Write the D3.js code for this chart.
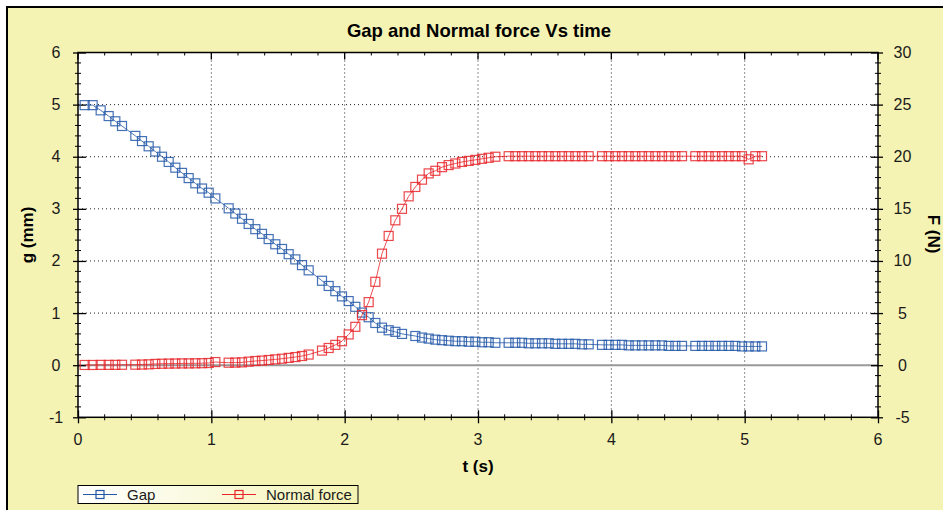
<!DOCTYPE html>
<html>
<head>
<meta charset="utf-8">
<script src="https://cdn.jsdelivr.net/npm/d3@7"></script>
<style>
  body { margin: 0; background: #fff; }
  text { font-family: "Liberation Sans", Arial, sans-serif; }
</style>
</head>
<body>
<script>
// data
var gapTime = [0.05, 0.11, 0.17, 0.23, 0.28, 0.33,
    0.43, 0.48, 0.53, 0.58, 0.63, 0.68, 0.73, 0.78, 0.83, 0.88, 0.93, 0.98, 1.03,
    1.13, 1.18, 1.23, 1.28, 1.33, 1.38, 1.43, 1.48, 1.53, 1.58, 1.63, 1.68, 1.73,
    1.83, 1.88, 1.93, 1.98, 2.03, 2.08, 2.13, 2.18, 2.23, 2.28, 2.33, 2.38, 2.43,
    2.53, 2.58, 2.63, 2.68, 2.73, 2.78, 2.83, 2.88, 2.93, 2.98, 3.03, 3.08, 3.13,
    3.23, 3.28, 3.33, 3.38, 3.43, 3.48, 3.53, 3.58, 3.63, 3.68, 3.73, 3.78, 3.83,
    3.93, 3.98, 4.03, 4.08, 4.13, 4.18, 4.23, 4.28, 4.33, 4.38, 4.43, 4.48, 4.53,
    4.63, 4.68, 4.73, 4.78, 4.83, 4.88, 4.93, 4.98, 5.03, 5.08, 5.13];
var gapValues = [4.99, 4.99, 4.89, 4.78, 4.68, 4.59,
    4.40, 4.30, 4.20, 4.10, 4.00, 3.90, 3.79, 3.69, 3.59, 3.49, 3.39, 3.31, 3.20,
    3.01, 2.91, 2.81, 2.71, 2.61, 2.52, 2.42, 2.32, 2.23, 2.13, 2.03, 1.92, 1.82,
    1.62, 1.52, 1.42, 1.32, 1.23, 1.12, 1.01, 0.92, 0.81, 0.72, 0.67, 0.64, 0.60,
    0.56, 0.53, 0.51, 0.49, 0.48, 0.47, 0.46, 0.46, 0.45, 0.45, 0.44, 0.44, 0.43,
    0.43, 0.43, 0.43, 0.42, 0.42, 0.42, 0.42, 0.41, 0.41, 0.41, 0.41, 0.40, 0.40,
    0.39, 0.39, 0.39, 0.39, 0.38, 0.38, 0.38, 0.38, 0.38, 0.38, 0.37, 0.37, 0.37,
    0.37, 0.37, 0.37, 0.37, 0.37, 0.37, 0.37, 0.36, 0.36, 0.36, 0.36];

var forceTime = [0.05, 0.11, 0.17, 0.23, 0.28, 0.33,
    0.43, 0.48, 0.53, 0.58, 0.63, 0.68, 0.73, 0.78, 0.83, 0.88, 0.93, 0.98, 1.03,
    1.13, 1.18, 1.23, 1.28, 1.33, 1.38, 1.43, 1.48, 1.53, 1.58, 1.63, 1.68, 1.73,
    1.83, 1.88, 1.93, 1.98, 2.03, 2.08, 2.13, 2.18, 2.23, 2.28, 2.33, 2.38, 2.43,
    2.48, 2.53, 2.58, 2.63, 2.68, 2.73, 2.78, 2.83, 2.88, 2.93, 2.98, 3.03, 3.08, 3.13,
    3.23, 3.28, 3.33, 3.38, 3.43, 3.48, 3.53, 3.58, 3.63, 3.68, 3.73, 3.78, 3.83,
    3.93, 3.98, 4.03, 4.08, 4.13, 4.18, 4.23, 4.28, 4.33, 4.38, 4.43, 4.48, 4.53,
    4.63, 4.68, 4.73, 4.78, 4.83, 4.88, 4.93, 4.98, 5.03, 5.08, 5.13];
var forceValues = [0.02, 0.02, 0.03, 0.03, 0.03, 0.04,
    0.05, 0.06, 0.08, 0.12, 0.14, 0.15, 0.16, 0.17, 0.17, 0.18, 0.19, 0.21, 0.30,
    0.24, 0.25, 0.27, 0.34, 0.40, 0.44, 0.50, 0.56, 0.62, 0.70, 0.78, 0.88, 1.02,
    1.40, 1.65, 1.95, 2.30, 2.95, 3.68, 4.80, 6.05, 8.00, 10.70, 12.40, 13.90, 15.00,
    16.20, 17.10, 17.80, 18.40, 18.65, 19.00, 19.20, 19.35, 19.50, 19.60, 19.70, 19.80, 19.90, 20.00,
    20.05, 20.05, 20.05, 20.05, 20.05, 20.05, 20.05, 20.05, 20.05, 20.05, 20.05, 20.05, 20.05,
    20.05, 20.05, 20.05, 20.05, 20.05, 20.05, 20.05, 20.05, 20.05, 20.05, 20.05, 20.05, 20.05,
    20.05, 20.05, 20.05, 20.05, 20.05, 20.05, 20.05, 20.05, 19.75, 20.05, 20.05];

var xTicks = [0, 1, 2, 3, 4, 5, 6];
var gTicks = [-1, 0, 1, 2, 3, 4, 5, 6];
var fTicks = [-5, 0, 5, 10, 15, 20, 25, 30];

var W = 943, H = 510;
var bg = "#f5f3b3";
var blue = "#2358a8", red = "#e8262a";

var svg = d3.select("body").append("svg")
    .attr("width", W).attr("height", H);

// outer panel
svg.append("rect").attr("x", 7).attr("y", 7).attr("width", W).attr("height", H)
    .attr("fill", bg).attr("stroke", "#000").attr("stroke-width", 2);

var pLeft = 78, pRight = 878, pTop = 52.5, pBottom = 417.3;

var x = d3.scaleLinear().domain([0, 6]).range([pLeft, pRight]);
var yG = d3.scaleLinear().domain([-1, 6]).range([pBottom, pTop]);
var yF = d3.scaleLinear().domain([-5, 30]).range([pBottom, pTop]);

svg.append("rect").attr("x", pLeft).attr("y", pTop)
    .attr("width", pRight - pLeft).attr("height", pBottom - pTop).attr("fill", "#fff");

// grid
var grid = svg.append("g").attr("stroke", "#222").attr("stroke-dasharray", "1,3").attr("stroke-width", 1);
grid.selectAll(".vg").data(xTicks.filter(d => d > 0 && d < 6)).join("line")
    .attr("x1", d => x(d)).attr("x2", d => x(d)).attr("y1", pTop).attr("y2", pBottom);
grid.selectAll(".hg").data(gTicks.filter(d => d > 0 && d < 6)).join("line")
    .attr("x1", pLeft).attr("x2", pRight).attr("y1", d => yG(d)).attr("y2", d => yG(d));

// zero line
svg.append("line").attr("x1", pLeft).attr("x2", pRight).attr("y1", yG(0)).attr("y2", yG(0))
    .attr("stroke", "#999").attr("stroke-width", 2);

// axes
function minor(ticks, step, n) {
    var out = [];
    for (var i = 0; i < ticks.length - 1; i++)
        for (var k = 1; k < n; k++) out.push(ticks[i] + step * k / n);
    return out;
}

function drawAxis(gen, tr, major, minorVals, inner, outer, horizontal, sign) {
    var g = svg.append("g").attr("transform", tr);
    g.call(gen.tickValues(major).tickSize(outer).tickPadding(4));
    g.select(".domain").remove();
    g.selectAll(".tick line").attr("stroke", "#000").attr("stroke-width", 1.3)
        .attr(horizontal ? "y1" : "x1", -sign * inner);
    g.selectAll(".tick text").remove();
    g.selectAll(".mn").data(minorVals).join("line")
        .attr("stroke", "#000").attr("stroke-width", 1)
        .attr(horizontal ? "x1" : "y1", d => gen.scale()(d))
        .attr(horizontal ? "x2" : "y2", d => gen.scale()(d))
        .attr(horizontal ? "y1" : "x1", -3)
        .attr(horizontal ? "y2" : "x2", 3);
    return g;
}

drawAxis(d3.axisBottom(x), `translate(0,${pBottom})`, xTicks, minor(xTicks, 1, 5), 7, 6, true, 1);
drawAxis(d3.axisLeft(yG), `translate(${pLeft},0)`, gTicks, minor(gTicks, 1, 5), 8, 5, false, -1);
drawAxis(d3.axisRight(yF), `translate(${pRight},0)`, fTicks, minor(fTicks, 5, 5), 7, 5, false, 1);

// top ticks (inside only)
var topG = svg.append("g");
topG.selectAll("line.mj").data(xTicks).join("line")
    .attr("x1", d => x(d)).attr("x2", d => x(d)).attr("y1", pTop).attr("y2", pTop + 7)
    .attr("stroke", "#000").attr("stroke-width", 1.3);
topG.selectAll("line.mn").data(minor(xTicks, 1, 5)).join("line")
    .attr("x1", d => x(d)).attr("x2", d => x(d)).attr("y1", pTop).attr("y2", pTop + 3)
    .attr("stroke", "#000");

// frame
svg.append("rect").attr("x", pLeft).attr("y", pTop)
    .attr("width", pRight - pLeft).attr("height", pBottom - pTop)
    .attr("fill", "none").attr("stroke", "#000").attr("stroke-width", 1.5);

// tick labels
var lab = svg.append("g").attr("font-size", 16).attr("fill", "#1a1a1a").attr("text-anchor", "middle");
lab.selectAll(".xl").data(xTicks).join("text")
    .attr("x", d => x(d)).attr("y", 445).text(d => d);
lab.selectAll(".gl").data(gTicks).join("text")
    .attr("x", 56).attr("y", d => yG(d) + 5.5).text(d => d);
lab.selectAll(".fl").data(fTicks).join("text")
    .attr("x", 902.5).attr("y", d => yF(d) + 5.5).text(d => d);

// titles
svg.append("text").attr("x", 479).attr("y", 36.5).attr("text-anchor", "middle")
    .attr("font-size", 18.5).attr("font-weight", "bold").text("Gap and Normal force Vs time");
svg.append("text").attr("x", 478).attr("y", 472).attr("text-anchor", "middle")
    .attr("font-size", 17).attr("font-weight", "bold").text("t (s)");
svg.append("text").attr("transform", "translate(33,235) rotate(-90)").attr("text-anchor", "middle")
    .attr("font-size", 17).attr("font-weight", "bold").text("g (mm)");
svg.append("text").attr("transform", "translate(928,234) rotate(90)").attr("text-anchor", "middle")
    .attr("font-size", 17).attr("font-weight", "bold").text("F (N)");

// series
function series(ts, vs, yScale, color) {
    var pts = ts.map((t, i) => [t, vs[i]]);
    var g = svg.append("g");
    g.append("path").datum(pts)
        .attr("d", d3.line().x(d => x(d[0])).y(d => yScale(d[1])))
        .attr("fill", "none").attr("stroke", color).attr("stroke-width", 1).attr("opacity", 0.8);
    g.selectAll("rect").data(pts).join("rect")
        .attr("x", d => x(d[0]) - 4.5).attr("y", d => yScale(d[1]) - 4.5)
        .attr("width", 9).attr("height", 9)
        .attr("fill", "none").attr("stroke", color).attr("stroke-width", 1.2).attr("opacity", 0.85);
}
series(gapTime, gapValues, yG, blue);
series(forceTime, forceValues, yF, red);

// legend
var grad = svg.append("defs").append("linearGradient").attr("id", "lg");
grad.append("stop").attr("offset", "0").attr("stop-color", "#ffffff");
grad.append("stop").attr("offset", "0.35").attr("stop-color", "#fbfbe6");
grad.append("stop").attr("offset", "1").attr("stop-color", bg);
svg.append("rect").attr("x", 78).attr("y", 485.5).attr("width", 280).attr("height", 18)
    .attr("fill", "url(#lg)").attr("stroke", "#000").attr("stroke-width", 1);

var legend = [
    { name: "Gap", color: blue, x0: 83 },
    { name: "Normal force", color: red, x0: 222 }
];
var li = svg.append("g").selectAll("g").data(legend).join("g");
li.append("line").attr("x1", d => d.x0).attr("x2", d => d.x0 + 34)
    .attr("y1", 494.5).attr("y2", 494.5).attr("stroke", d => d.color).attr("stroke-width", 1);
li.append("rect").attr("x", d => d.x0 + 13).attr("y", 490.5).attr("width", 8).attr("height", 8)
    .attr("fill", "none").attr("stroke", d => d.color).attr("stroke-width", 1.2);
li.append("text").attr("x", d => d.x0 + 44).attr("y", 499.5).attr("font-size", 15)
    .attr("fill", "#1a1a1a").text(d => d.name);
</script>
</body>
</html>
